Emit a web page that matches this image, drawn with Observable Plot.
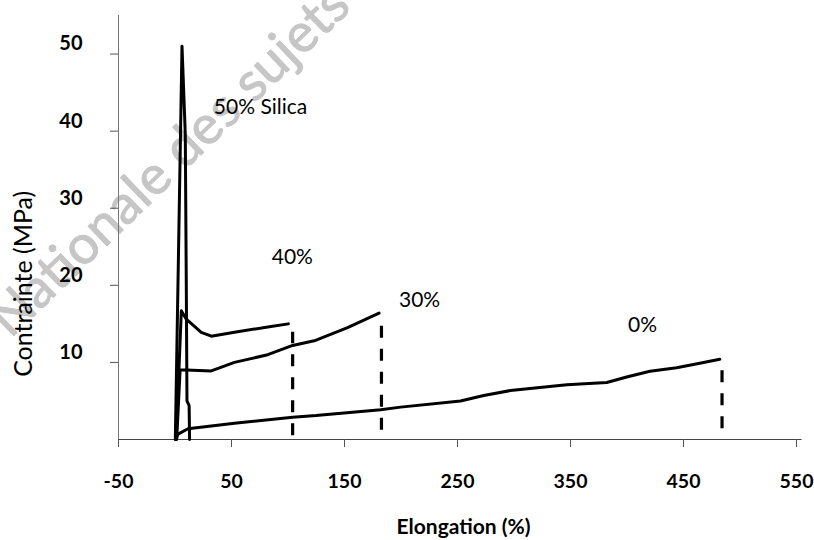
<!DOCTYPE html>
<html>
<head>
<meta charset="utf-8">
<script src="https://cdn.jsdelivr.net/npm/d3@7"></script>
<script src="https://cdn.jsdelivr.net/npm/@observablehq/plot@0.6"></script>
<style>
  html, body { margin: 0; padding: 0; background: #fff; }
</style>
</head>
<body>
<div id="chart"></div>
<script>
// Series: [elongation %, stress MPa]
const silica50 = [[0.3,0],[6.2,51],[8.5,42],[9.1,39.6],[10,20],[10.6,5],[12.5,4.4],[12.9,0]];
const silica40 = [[1,0],[5.6,16.7],[10,15.6],[23.2,13.9],[32.1,13.4],[52.6,13.9],[82.1,14.6],[100.3,15.0]];
const silica30 = [[1.5,0],[4.5,9.0],[10,9.0],[32.1,8.9],[52.6,10.0],[82.1,11.0],[104.1,12.2],[123.2,12.8],[152.7,14.5],[180.6,16.4]];
const silica0 = [[0.5,0],[2.7,0.7],[11.5,1.4],[52.6,2.1],[104.1,2.9],[124.7,3.1],[182,3.85],[199.7,4.2],[252.7,5.0],[273.2,5.7],[296.8,6.35],[346.8,7.1],[382.1,7.4],[399.7,8.1],[420.3,8.85],[443.9,9.3],[464.4,9.9],[482.1,10.4]];

// Rupture (dashed) lines
const breakX = [104.1, 182.7, 484.1];
const breakTop = [13.9, 15.6, 9.6];
const breakBottom = [0.5, 1.2, 1.4];

// Curve labels
const labelText = ["50% Silica", "40%", "30%", "0%"];
const labelX = [34.4, 85.6, 198.2, 400.9];
const labelY = [43.1, 23.7, 18.0, 14.8];

const xTicks = [-50, 50, 150, 250, 350, 450, 550];
const yTicks = [10, 20, 30, 40, 50];

const xTitle = "Elongation (%)";
const yTitle = "Contrainte (MPa)";
const watermark = "Nationale des sujets";

const series = [
  {name: "50%", pts: silica50},
  {name: "40%", pts: silica40},
  {name: "30%", pts: silica30},
  {name: "0%", pts: silica0}
];
const lineData = series.flatMap(s => s.pts.map(([x, y]) => ({s: s.name, x, y})));
const breaks = breakX.map((x, i) => ({x, y1: breakBottom[i], y2: breakTop[i]}));
const labels = labelText.map((t, i) => ({t, x: labelX[i], y: labelY[i]}));

const chart = Plot.plot({
  width: 814,
  height: 540,
  marginLeft: 118,
  marginRight: 18,
  marginTop: 15,
  marginBottom: 101,
  style: {fontFamily: "Lato, 'Open Sans', sans-serif", background: "#fff", color: "#000"},
  x: {domain: [-50, 550]},
  y: {domain: [0, 55]},
  marks: [
    Plot.text([watermark], {
      frameAnchor: "middle", dx: -288, dy: -66, rotate: -44,
      fontSize: 54, fill: "#c6c6c6", stroke: "#bcbcbc", strokeWidth: 0.8,
      fontFamily: "Lato, sans-serif"
    }),
    Plot.ruleX([-50], {y1: 0, y2: 55, stroke: "#777", strokeWidth: 1}),
    Plot.ruleY([0], {x1: -50, x2: 555, stroke: "#444", strokeWidth: 1.2}),
    Plot.axisX({ticks: xTicks, tickSize: 8, tickPadding: 27, fontSize: 19.5, fontWeight: "bold",
      tickFormat: d => String(d), label: null, stroke: "#555"}),
    Plot.axisY({ticks: yTicks, tickSize: 8, tickFormat: () => "", label: null, stroke: "#555"}),
    Plot.text(yTicks, {x: -50, y: d => d, text: d => String(d), dx: -36, dy: -10, textAnchor: "end",
      fontSize: 20, fontWeight: "bold", fill: "#000"}),
    Plot.line(lineData, {x: "x", y: "y", z: "s", stroke: "#000", strokeWidth: 3, curve: "linear", strokeLinejoin: "round"}),
    Plot.ruleX(breaks, {x: "x", y1: "y1", y2: "y2", stroke: "#000", strokeWidth: 3.2, strokeDasharray: "12,11"}),
    Plot.text(labels, {x: "x", y: "y", text: "t", textAnchor: "start", fontSize: 21, fill: "#000"}),
    Plot.text([xTitle], {x: 255.3, y: -12.3, lineAnchor: "bottom", fontSize: 21, fontWeight: "bold", fill: "#000"}),
    Plot.text([yTitle], {x: -133.8, y: 20.2, rotate: -90, fontSize: 25, fill: "#000"})
  ]
});
document.getElementById("chart").appendChild(chart);
</script>
</body>
</html>
